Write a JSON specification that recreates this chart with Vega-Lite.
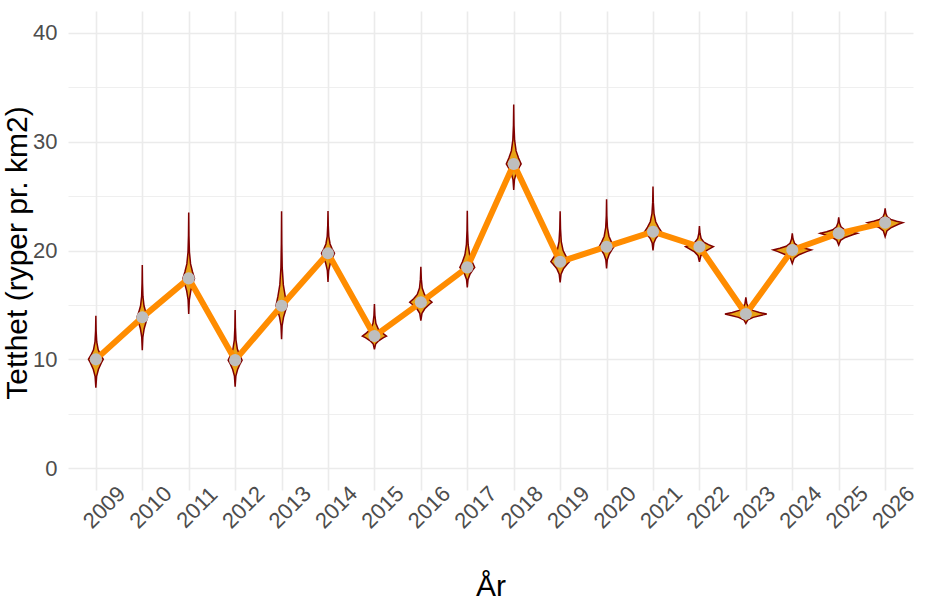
{
  "$schema": "https://vega.github.io/schema/vega-lite/v6.json",
  "width": 845,
  "height": 479,
  "autosize": {"type": "none"},
  "padding": {"left": 68, "top": 11, "right": 12, "bottom": 110},
  "background": "white",
  "config": {
    "view": {"stroke": null},
    "font": "Liberation Sans"
  },
  "datasets": {
    "med": [
      {"year": 2009, "median": 10.0}, {"year": 2010, "median": 13.86}, {"year": 2011, "median": 17.44},
      {"year": 2012, "median": 9.93}, {"year": 2013, "median": 14.93}, {"year": 2014, "median": 19.74},
      {"year": 2015, "median": 12.14}, {"year": 2016, "median": 15.24}, {"year": 2017, "median": 18.45},
      {"year": 2018, "median": 27.95}, {"year": 2019, "median": 18.97}, {"year": 2020, "median": 20.35},
      {"year": 2021, "median": 21.73}, {"year": 2022, "median": 20.35}, {"year": 2023, "median": 14.16},
      {"year": 2024, "median": 20.05}, {"year": 2025, "median": 21.58}, {"year": 2026, "median": 22.56}
    ],
    "violin": [
      {"year":2009,"v":7.40,"lo":2009,"hi":2009},{"year":2009,"v":8.44,"lo":2008.984,"hi":2009.016},{"year":2009,"v":9.09,"lo":2008.944,"hi":2009.056},{"year":2009,"v":9.69,"lo":2008.88,"hi":2009.12},{"year":2009,"v":10.00,"lo":2008.84,"hi":2009.16},{"year":2009,"v":10.40,"lo":2008.896,"hi":2009.104},{"year":2009,"v":10.88,"lo":2008.949,"hi":2009.051},{"year":2009,"v":11.60,"lo":2008.981,"hi":2009.019},{"year":2009,"v":12.60,"lo":2008.994,"hi":2009.006},{"year":2009,"v":14.00,"lo":2009,"hi":2009},
      {"year":2010,"v":10.85,"lo":2010,"hi":2010},{"year":2010,"v":12.05,"lo":2009.988,"hi":2010.012},{"year":2010,"v":12.81,"lo":2009.96,"hi":2010.04},{"year":2010,"v":13.50,"lo":2009.914,"hi":2010.086},{"year":2010,"v":13.86,"lo":2009.885,"hi":2010.115},{"year":2010,"v":14.34,"lo":2009.925,"hi":2010.075},{"year":2010,"v":14.92,"lo":2009.963,"hi":2010.037},{"year":2010,"v":15.78,"lo":2009.986,"hi":2010.014},{"year":2010,"v":16.99,"lo":2009.995,"hi":2010.005},{"year":2010,"v":18.67,"lo":2010,"hi":2010},
      {"year":2011,"v":14.16,"lo":2011,"hi":2011},{"year":2011,"v":15.47,"lo":2010.987,"hi":2011.013},{"year":2011,"v":16.29,"lo":2010.956,"hi":2011.044},{"year":2011,"v":17.05,"lo":2010.906,"hi":2011.094},{"year":2011,"v":17.44,"lo":2010.875,"hi":2011.125},{"year":2011,"v":18.05,"lo":2010.919,"hi":2011.081},{"year":2011,"v":18.77,"lo":2010.96,"hi":2011.04},{"year":2011,"v":19.86,"lo":2010.985,"hi":2011.015},{"year":2011,"v":21.38,"lo":2010.995,"hi":2011.005},{"year":2011,"v":23.50,"lo":2011,"hi":2011},
      {"year":2012,"v":7.48,"lo":2012,"hi":2012},{"year":2012,"v":8.46,"lo":2011.985,"hi":2012.015},{"year":2012,"v":9.07,"lo":2011.947,"hi":2012.053},{"year":2012,"v":9.64,"lo":2011.887,"hi":2012.113},{"year":2012,"v":9.93,"lo":2011.85,"hi":2012.15},{"year":2012,"v":10.39,"lo":2011.902,"hi":2012.098},{"year":2012,"v":10.94,"lo":2011.952,"hi":2012.048},{"year":2012,"v":11.77,"lo":2011.982,"hi":2012.018},{"year":2012,"v":12.92,"lo":2011.994,"hi":2012.006},{"year":2012,"v":14.53,"lo":2012,"hi":2012},
      {"year":2013,"v":11.86,"lo":2013,"hi":2013},{"year":2013,"v":13.09,"lo":2012.988,"hi":2013.012},{"year":2013,"v":13.86,"lo":2012.958,"hi":2013.042},{"year":2013,"v":14.56,"lo":2012.91,"hi":2013.09},{"year":2013,"v":14.93,"lo":2012.88,"hi":2013.12},{"year":2013,"v":15.80,"lo":2012.922,"hi":2013.078},{"year":2013,"v":16.84,"lo":2012.962,"hi":2013.038},{"year":2013,"v":18.40,"lo":2012.986,"hi":2013.014},{"year":2013,"v":20.57,"lo":2012.995,"hi":2013.005},{"year":2013,"v":23.60,"lo":2013,"hi":2013},
      {"year":2014,"v":17.10,"lo":2014,"hi":2014},{"year":2014,"v":18.16,"lo":2013.986,"hi":2014.014},{"year":2014,"v":18.82,"lo":2013.951,"hi":2014.049},{"year":2014,"v":19.42,"lo":2013.895,"hi":2014.105},{"year":2014,"v":19.74,"lo":2013.86,"hi":2014.14},{"year":2014,"v":20.13,"lo":2013.909,"hi":2014.091},{"year":2014,"v":20.60,"lo":2013.955,"hi":2014.045},{"year":2014,"v":21.30,"lo":2013.983,"hi":2014.017},{"year":2014,"v":22.27,"lo":2013.994,"hi":2014.006},{"year":2014,"v":23.63,"lo":2014,"hi":2014},
      {"year":2015,"v":10.91,"lo":2015,"hi":2015},{"year":2015,"v":11.40,"lo":2014.974,"hi":2015.026},{"year":2015,"v":11.71,"lo":2014.909,"hi":2015.091},{"year":2015,"v":11.99,"lo":2014.805,"hi":2015.195},{"year":2015,"v":12.14,"lo":2014.74,"hi":2015.26},{"year":2015,"v":12.43,"lo":2014.831,"hi":2015.169},{"year":2015,"v":12.79,"lo":2014.917,"hi":2015.083},{"year":2015,"v":13.32,"lo":2014.969,"hi":2015.031},{"year":2015,"v":14.05,"lo":2014.99,"hi":2015.01},{"year":2015,"v":15.08,"lo":2015,"hi":2015},
      {"year":2016,"v":13.55,"lo":2016,"hi":2016},{"year":2016,"v":14.23,"lo":2015.976,"hi":2016.024},{"year":2016,"v":14.65,"lo":2015.916,"hi":2016.084},{"year":2016,"v":15.04,"lo":2015.82,"hi":2016.18},{"year":2016,"v":15.24,"lo":2015.76,"hi":2016.24},{"year":2016,"v":15.57,"lo":2015.844,"hi":2016.156},{"year":2016,"v":15.96,"lo":2015.923,"hi":2016.077},{"year":2016,"v":16.55,"lo":2015.971,"hi":2016.029},{"year":2016,"v":17.37,"lo":2015.99,"hi":2016.01},{"year":2016,"v":18.51,"lo":2016,"hi":2016},
      {"year":2017,"v":16.60,"lo":2017,"hi":2017},{"year":2017,"v":17.34,"lo":2016.984,"hi":2017.016},{"year":2017,"v":17.80,"lo":2016.944,"hi":2017.056},{"year":2017,"v":18.23,"lo":2016.88,"hi":2017.12},{"year":2017,"v":18.45,"lo":2016.84,"hi":2017.16},{"year":2017,"v":18.97,"lo":2016.896,"hi":2017.104},{"year":2017,"v":19.60,"lo":2016.949,"hi":2017.051},{"year":2017,"v":20.53,"lo":2016.981,"hi":2017.019},{"year":2017,"v":21.84,"lo":2016.994,"hi":2017.006},{"year":2017,"v":23.66,"lo":2017,"hi":2017},
      {"year":2018,"v":25.56,"lo":2018,"hi":2018},{"year":2018,"v":26.52,"lo":2017.984,"hi":2018.016},{"year":2018,"v":27.11,"lo":2017.944,"hi":2018.056},{"year":2018,"v":27.66,"lo":2017.88,"hi":2018.12},{"year":2018,"v":27.95,"lo":2017.84,"hi":2018.16},{"year":2018,"v":28.50,"lo":2017.896,"hi":2018.104},{"year":2018,"v":29.15,"lo":2017.949,"hi":2018.051},{"year":2018,"v":30.13,"lo":2017.981,"hi":2018.019},{"year":2018,"v":31.49,"lo":2017.994,"hi":2018.006},{"year":2018,"v":33.40,"lo":2018,"hi":2018},
      {"year":2019,"v":17.07,"lo":2019,"hi":2019},{"year":2019,"v":17.83,"lo":2018.98,"hi":2019.02},{"year":2019,"v":18.31,"lo":2018.93,"hi":2019.07},{"year":2019,"v":18.74,"lo":2018.85,"hi":2019.15},{"year":2019,"v":18.97,"lo":2018.8,"hi":2019.2},{"year":2019,"v":19.43,"lo":2018.87,"hi":2019.13},{"year":2019,"v":19.99,"lo":2018.936,"hi":2019.064},{"year":2019,"v":20.82,"lo":2018.976,"hi":2019.024},{"year":2019,"v":21.98,"lo":2018.992,"hi":2019.008},{"year":2019,"v":23.60,"lo":2019,"hi":2019},
      {"year":2020,"v":18.36,"lo":2020,"hi":2020},{"year":2020,"v":19.16,"lo":2019.984,"hi":2020.016},{"year":2020,"v":19.65,"lo":2019.944,"hi":2020.056},{"year":2020,"v":20.11,"lo":2019.88,"hi":2020.12},{"year":2020,"v":20.35,"lo":2019.84,"hi":2020.16},{"year":2020,"v":20.79,"lo":2019.896,"hi":2020.104},{"year":2020,"v":21.31,"lo":2019.949,"hi":2020.051},{"year":2020,"v":22.09,"lo":2019.981,"hi":2020.019},{"year":2020,"v":23.18,"lo":2019.994,"hi":2020.006},{"year":2020,"v":24.70,"lo":2020,"hi":2020},
      {"year":2021,"v":20.00,"lo":2021,"hi":2021},{"year":2021,"v":20.69,"lo":2020.982,"hi":2021.018},{"year":2021,"v":21.12,"lo":2020.937,"hi":2021.063},{"year":2021,"v":21.52,"lo":2020.865,"hi":2021.135},{"year":2021,"v":21.73,"lo":2020.82,"hi":2021.18},{"year":2021,"v":22.14,"lo":2020.883,"hi":2021.117},{"year":2021,"v":22.64,"lo":2020.942,"hi":2021.058},{"year":2021,"v":23.39,"lo":2020.978,"hi":2021.022},{"year":2021,"v":24.42,"lo":2020.993,"hi":2021.007},{"year":2021,"v":25.87,"lo":2021,"hi":2021},
      {"year":2022,"v":18.97,"lo":2022,"hi":2022},{"year":2022,"v":19.52,"lo":2021.97,"hi":2022.03},{"year":2022,"v":19.87,"lo":2021.895,"hi":2022.105},{"year":2022,"v":20.18,"lo":2021.775,"hi":2022.225},{"year":2022,"v":20.35,"lo":2021.7,"hi":2022.3},{"year":2022,"v":20.54,"lo":2021.805,"hi":2022.195},{"year":2022,"v":20.77,"lo":2021.904,"hi":2022.096},{"year":2022,"v":21.11,"lo":2021.964,"hi":2022.036},{"year":2022,"v":21.59,"lo":2021.988,"hi":2022.012},{"year":2022,"v":22.25,"lo":2022,"hi":2022},
      {"year":2023,"v":13.30,"lo":2023,"hi":2023},{"year":2023,"v":13.64,"lo":2022.955,"hi":2023.045},{"year":2023,"v":13.86,"lo":2022.842,"hi":2023.158},{"year":2023,"v":14.06,"lo":2022.662,"hi":2023.338},{"year":2023,"v":14.16,"lo":2022.55,"hi":2023.45},{"year":2023,"v":14.31,"lo":2022.707,"hi":2023.293},{"year":2023,"v":14.50,"lo":2022.856,"hi":2023.144},{"year":2023,"v":14.78,"lo":2022.946,"hi":2023.054},{"year":2023,"v":15.16,"lo":2022.982,"hi":2023.018},{"year":2023,"v":15.70,"lo":2023,"hi":2023},
      {"year":2024,"v":18.80,"lo":2024,"hi":2024},{"year":2024,"v":19.30,"lo":2023.959,"hi":2024.041},{"year":2024,"v":19.61,"lo":2023.856,"hi":2024.144},{"year":2024,"v":19.90,"lo":2023.692,"hi":2024.308},{"year":2024,"v":20.05,"lo":2023.59,"hi":2024.41},{"year":2024,"v":20.20,"lo":2023.733,"hi":2024.267},{"year":2024,"v":20.39,"lo":2023.869,"hi":2024.131},{"year":2024,"v":20.66,"lo":2023.951,"hi":2024.049},{"year":2024,"v":21.05,"lo":2023.984,"hi":2024.016},{"year":2024,"v":21.58,"lo":2024,"hi":2024},
      {"year":2025,"v":20.50,"lo":2025,"hi":2025},{"year":2025,"v":20.93,"lo":2024.96,"hi":2025.04},{"year":2025,"v":21.20,"lo":2024.86,"hi":2025.14},{"year":2025,"v":21.45,"lo":2024.7,"hi":2025.3},{"year":2025,"v":21.58,"lo":2024.6,"hi":2025.4},{"year":2025,"v":21.73,"lo":2024.74,"hi":2025.26},{"year":2025,"v":21.90,"lo":2024.872,"hi":2025.128},{"year":2025,"v":22.17,"lo":2024.952,"hi":2025.048},{"year":2025,"v":22.54,"lo":2024.984,"hi":2025.016},{"year":2025,"v":23.05,"lo":2025,"hi":2025},
      {"year":2026,"v":21.27,"lo":2026,"hi":2026},{"year":2026,"v":21.79,"lo":2025.962,"hi":2026.038},{"year":2026,"v":22.11,"lo":2025.867,"hi":2026.133},{"year":2026,"v":22.41,"lo":2025.715,"hi":2026.285},{"year":2026,"v":22.56,"lo":2025.62,"hi":2026.38},{"year":2026,"v":22.69,"lo":2025.753,"hi":2026.247},{"year":2026,"v":22.85,"lo":2025.878,"hi":2026.122},{"year":2026,"v":23.08,"lo":2025.954,"hi":2026.046},{"year":2026,"v":23.41,"lo":2025.985,"hi":2026.015},{"year":2026,"v":23.87,"lo":2026,"hi":2026}
    ]
  },
  "layer": [
    {
      "data": {"name": "violin"},
      "mark": {"type": "area", "orient": "horizontal", "fill": "#E8A317", "fillOpacity": 1, "stroke": "#800000", "strokeWidth": 1.5},
      "encoding": {
        "y": {
          "field": "v", "type": "quantitative",
          "scale": {"domain": [-2, 42], "nice": false, "zero": false},
          "axis": {
            "values": [0, 5, 10, 15, 20, 25, 30, 35, 40],
            "labelExpr": "datum.value % 10 === 0 ? datum.label : ''",
            "grid": true,
            "gridColor": "#EBEBEB",
            "gridWidth": {"condition": {"test": "datum.value % 10 !== 0", "value": 0.8}, "value": 1.6},
            "domain": false,
            "ticks": false,
            "tickSize": 0,
            "labelFontSize": 22,
            "labelColor": "#4D4D4D",
            "labelPadding": 11,
            "title": "Tetthet (ryper pr. km2)",
            "titleFontSize": 30,
            "titleFontWeight": "normal",
            "titleColor": "#000000",
            "titleAngle": -90,
            "titleAlign": "center",
            "titleBaseline": "alphabetic",
            "titleX": -42,
            "titleY": 241.5
          }
        },
        "x": {
          "field": "lo", "type": "quantitative",
          "scale": {"domain": [2008.4, 2026.6], "nice": false, "zero": false},
          "axis": {
            "values": [2009, 2010, 2011, 2012, 2013, 2014, 2015, 2016, 2017, 2018, 2019, 2020, 2021, 2022, 2023, 2024, 2025, 2026],
            "format": "d",
            "grid": true,
            "gridColor": "#EBEBEB",
            "gridWidth": 1.6,
            "domain": false,
            "ticks": false,
            "tickSize": 0,
            "labelAngle": -45,
            "labelAlign": "center",
            "labelBaseline": "middle",
            "labelPadding": 17,
            "labelOffset": 8,
            "labelFontSize": 22,
            "labelColor": "#4D4D4D",
            "labelOverlap": false,
            "labelBound": false,
            "title": "År",
            "titleFontSize": 30,
            "titleFontWeight": "normal",
            "titleColor": "#000000",
            "titleBaseline": "alphabetic",
            "titleY": 105
          }
        },
        "x2": {"field": "hi"},
        "detail": {"field": "year", "type": "nominal"}
      }
    },
    {
      "data": {"name": "med"},
      "mark": {"type": "line", "color": "#FF8C00", "strokeWidth": 6, "strokeJoin": "miter"},
      "encoding": {
        "x": {"field": "year", "type": "quantitative"},
        "y": {"field": "median", "type": "quantitative"}
      }
    },
    {
      "data": {"name": "med"},
      "mark": {"type": "circle", "color": "#BEBEBE", "opacity": 1, "size": 145},
      "encoding": {
        "x": {"field": "year", "type": "quantitative"},
        "y": {"field": "median", "type": "quantitative"}
      }
    }
  ]
}
